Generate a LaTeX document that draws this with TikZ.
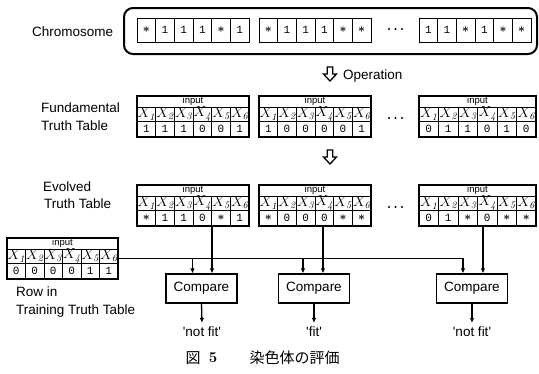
\documentclass[tikz,border=0pt]{standalone}
\usepackage{fontspec}
\newfontfamily\lab[Ligatures=TeXOff]{Liberation Sans}
\newfontfamily\valfont{Liberation Mono}
\newfontfamily\cjk{Noto Sans CJK JP}
\usetikzlibrary{arrows.meta}
\def\starmark{s}
\newcommand\cellval[1]{\edef\tmpv{#1}\ifx\tmpv\starmark{\fontsize{13}{14}\selectfont\boldmath$\ast$}\else#1\fi}
\tikzset{
  lbl/.style={font=\lab\fontsize{13.5}{16}\selectfont, inner sep=0pt, text height=9.7pt, text depth=0pt},
  tabbox/.style={draw, line width=1.1pt, inner sep=0pt},
  gridline/.style={line width=0.6pt},
  inlab/.style={font=\lab\fontsize{9.5}{11}\selectfont, inner sep=0pt},
  xlab/.style={font=\fontsize{14.4}{16}\selectfont, inner sep=0pt},
  vlab/.style={font=\valfont\fontsize{11}{12}\selectfont, inner sep=0pt},
  cmpbox/.style={draw, line width=1.2pt, minimum width=71pt, minimum height=29pt, inner sep=0pt,
    font=\lab\fontsize{13.5}{16}\selectfont},
  conn/.style={line width=1.3pt},
  arr/.style={conn, -{Latex[length=5pt,width=4.5pt]}},
  hollow/.style={draw, line width=1.3pt, fill=white, line join=miter},
  dotmark/.style={fill=black},
}
\newcommand\truthtab[5]{%
  \begin{scope}[shift={(#2,#3)}]
    \pgfmathsetmacro\cw{#4/6}
    \node[tabbox, minimum width=#4pt, minimum height=41pt] (#1) at ({#4/2},20.5) {};
    \draw[gridline] (0,11) -- (#4,11) (0,25) -- (#4,25);
    \foreach \i in {1,...,5} \draw[gridline] ({\i*\cw},11) -- ({\i*\cw},41);
    \node[inlab] (#1in) at ({#4/2},5.5) {input};
    \foreach \v [count=\i] in {#5} {
      \node[xlab] (#1x\i) at ({(\i-0.5)*\cw},18) {$X_{\mathit{\i}}$};
      \node[vlab] (#1v\i) at ({(\i-0.5)*\cw},33) {\cellval{\v}};
    }
  \end{scope}}
\newcommand\chromgrp[4]{%
  \begin{scope}[shift={(#2,18)}]
    \pgfmathsetmacro\cw{#3/6}
    \node[draw, line width=0.9pt, minimum width=#3pt, minimum height=24pt, inner sep=0pt] (#1) at ({#3/2},12) {};
    \foreach \i in {1,...,5} \draw[gridline] ({\i*\cw},0) -- ({\i*\cw},24);
    \foreach \v [count=\i] in {#4} \node[vlab] (#1v\i) at ({(\i-0.5)*\cw},12) {\cellval{\v}};
  \end{scope}}
\newcommand\hollowarrow[2]{%
  \draw[hollow] ({#1-2.8},#2) -- ({#1+2.8},#2) -- ({#1+2.8},{#2+7}) -- ({#1+6.5},{#2+7})
    -- (#1,{#2+14}) -- ({#1-6.5},{#2+7}) -- ({#1-2.8},{#2+7}) -- cycle;}
\newcommand\threedots[1]{%
  \foreach \dx in {389,395.5,402} \fill[dotmark] (\dx,#1) circle (1.15pt);}
\begin{document}
\begin{tikzpicture}[x=1pt,y=-1pt]
\useasboundingbox (0,0) rectangle (539,373);
% chromosome
\node[lbl, anchor=west] (chl) at (32,32) {Chromosome};
\node[draw, line width=2pt, rounded corners=9pt, minimum width=413pt, minimum height=46pt, inner sep=0pt] (chrom) at (330.5,31) {};
\chromgrp{g1}{137}{112}{s,1,1,1,s,1}
\chromgrp{g2}{259}{112}{s,1,1,1,s,s}
\chromgrp{g3}{419}{112}{1,1,s,1,s,s}
\threedots{29}
% operation
\hollowarrow{330}{67}
\node[lbl, anchor=west] (op) at (343,75) {Operation};
% fundamental
\node[lbl, anchor=west] (fl1) at (41,108) {Fundamental};
\node[lbl, anchor=west] (fl2) at (41,126) {Truth Table};
\truthtab{f1}{137}{96}{112}{1,1,1,0,0,1}
\truthtab{f2}{259}{96}{112}{1,0,0,0,0,1}
\truthtab{f3}{419}{96}{117}{0,1,1,0,1,0}
\threedots{118}
\hollowarrow{330}{150}
% evolved
\node[lbl, anchor=west] (el1) at (43,187) {Evolved};
\node[lbl, anchor=west] (el2) at (44,204) {Truth Table};
\truthtab{e1}{137}{185}{112}{s,1,1,0,s,1}
\truthtab{e2}{259}{185}{112}{s,0,0,0,s,s}
\truthtab{e3}{419}{185}{117}{0,1,s,0,s,s}
\threedots{207}
% training
\truthtab{tr}{7}{238}{111}{0,0,0,0,1,1}
\node[lbl, anchor=west] (rl1) at (16,292) {Row in};
\node[lbl, anchor=west] (rl2) at (16,310) {Training Truth Table};
% compare
\node[cmpbox] (c1) at (201.5,288.5) {Compare};
\node[cmpbox] (c2) at (314,288.5) {Compare};
\node[cmpbox] (c3) at (472,288.5) {Compare};
\coordinate (b1) at ([xshift=-9pt]c1.north);
\coordinate (a1) at ([xshift=10.5pt]c1.north);
\coordinate (b2) at ([xshift=-11pt]c2.north);
\coordinate (a2) at ([xshift=9pt]c2.north);
\coordinate (b3) at ([xshift=-9pt]c3.north);
\coordinate (a3) at ([xshift=11pt]c3.north);
\draw[arr] (e1.south -| a1) -- (a1);
\draw[arr] (e2.south -| a2) -- (a2);
\draw[arr] (e3.south -| a3) -- (a3);
\draw[arr] (tr.east) -| (b3);
\draw[arr] (tr.east -| b1) -- (b1);
\draw[arr] (tr.east -| b2) -- (b2);
% outputs
\node[lbl] (o1) at (202,332) {'not fit'};
\node[lbl] (o2) at (314,332) {'fit'};
\node[lbl] (o3) at (472,332) {'not fit'};
\draw[arr] (c1.south) -- ([yshift=4pt]o1.north);
\draw[arr] (c2.south) -- ([yshift=4pt]o2.north);
\draw[arr] (c3.south) -- ([yshift=4pt]o3.north);
% caption
\node[font=\cjk\fontsize{15}{18}\selectfont, inner sep=0pt] (cap1) at (193,358) {図};
\node[font=\bfseries\fontsize{15}{18}\selectfont, inner sep=0pt] (cap2) at (213,358) {5};
\node[font=\cjk\fontsize{15}{18}\selectfont, inner sep=0pt] (cap3) at (294.5,358) {染色体の評価};
\end{tikzpicture}
\end{document}
